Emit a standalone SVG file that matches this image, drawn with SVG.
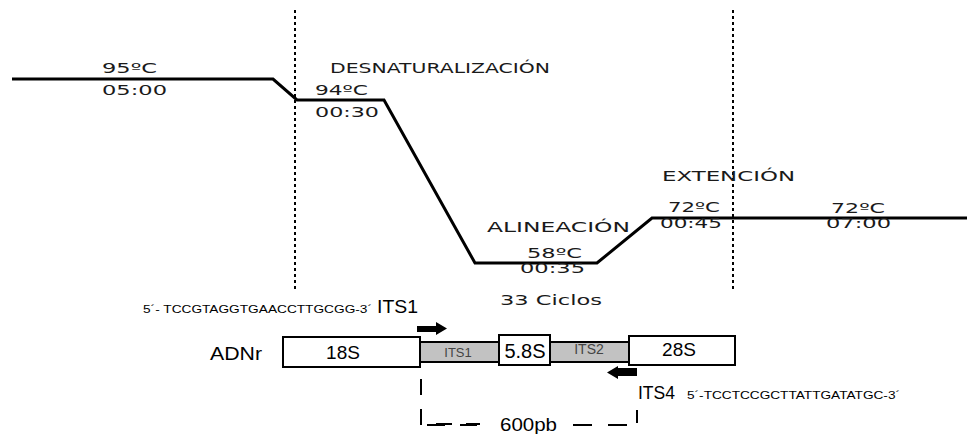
<svg xmlns="http://www.w3.org/2000/svg" width="967" height="434" viewBox="0 0 967 434">
<style>
.t{font-family:"DejaVu Sans","Open Sans",sans-serif;font-size:14.5px;fill:#1a1a1a}
.a{font-family:"Liberation Sans",Arial,sans-serif;fill:#000}
.prof{fill:none;stroke:#000;stroke-width:3;stroke-linejoin:miter}
.div{stroke:#000;stroke-width:2;stroke-dasharray:3,3}
.box{fill:#fff;stroke:#000;stroke-width:2}
.band{fill:#c2c2c2;stroke:#000;stroke-width:2}
.brk{fill:none;stroke:#000;stroke-width:2;stroke-dasharray:16,14}
</style>
<g id="dividers">
<line class="div" x1="295" y1="10" x2="295" y2="290"/>
<line class="div" x1="733" y1="10" x2="733" y2="290"/>
</g>
<g id="profile">
<polyline class="prof" points="12,79 273,79 297,100 384,100 475,263 597,263 652,218 967,218"/>
</g>
<g id="labels">
<text class="t" x="102" y="73" textLength="55" lengthAdjust="spacingAndGlyphs">95ºC</text>
<text class="t" x="102" y="95" textLength="65" lengthAdjust="spacingAndGlyphs">05:00</text>
<text class="t" x="330" y="73" textLength="220" lengthAdjust="spacingAndGlyphs">DESNATURALIZACIÓN</text>
<text class="t" x="315" y="95" textLength="53" lengthAdjust="spacingAndGlyphs">94ºC</text>
<text class="t" x="315" y="117" textLength="64" lengthAdjust="spacingAndGlyphs">00:30</text>
<text class="t" x="487" y="232" textLength="143" lengthAdjust="spacingAndGlyphs">ALINEACIÓN</text>
<text class="t" x="527" y="258" textLength="55" lengthAdjust="spacingAndGlyphs">58ºC</text>
<text class="t" x="520" y="273" textLength="65" lengthAdjust="spacingAndGlyphs">00:35</text>
<text class="t" x="662" y="181" textLength="133" lengthAdjust="spacingAndGlyphs">EXTENCIÓN</text>
<text class="t" x="668" y="212" textLength="52" lengthAdjust="spacingAndGlyphs">72ºC</text>
<text class="t" x="660" y="228" textLength="62" lengthAdjust="spacingAndGlyphs">00:45</text>
<text class="t" x="831" y="213" textLength="54" lengthAdjust="spacingAndGlyphs">72ºC</text>
<text class="t" x="826" y="228" textLength="65" lengthAdjust="spacingAndGlyphs">07:00</text>
<text class="t" x="500" y="305" textLength="102" lengthAdjust="spacingAndGlyphs">33 Ciclos</text>
</g>
<g id="primer-its1">
<text class="a" x="143" y="313" font-size="11.5" textLength="229" lengthAdjust="spacingAndGlyphs">5´- TCCGTAGGTGAACCTTGCGG-3´</text>
<text class="a" x="377" y="313" font-size="19" textLength="41" lengthAdjust="spacingAndGlyphs">ITS1</text>
<polygon points="417,326 436,326 436,322 447,328.5 436,335 436,332 417,332" fill="#000"/>
</g>
<g id="adnr-label">
<text class="a" x="210" y="360" font-size="19" textLength="52" lengthAdjust="spacingAndGlyphs">ADNr</text>
</g>
<g id="its1-band">
<rect class="band" x="420" y="342" width="80" height="20"/>
<text class="a" x="458" y="357" font-size="13" fill="#444" text-anchor="middle" style="fill:#444">ITS1</text>
</g>
<g id="its2-band">
<rect class="band" x="550" y="342" width="79" height="20"/>
<text class="a" x="589" y="354" font-size="14" text-anchor="middle" style="fill:#444">ITS2</text>
</g>
<g id="box-18s">
<rect class="box" x="283" y="337" width="137" height="30"/>
<text class="a" x="343" y="359" font-size="19" text-anchor="middle">18S</text>
</g>
<g id="box-58s">
<rect class="box" x="499" y="335" width="51" height="30"/>
<text class="a" x="525" y="358" font-size="20" text-anchor="middle">5.8S</text>
</g>
<g id="box-28s">
<rect class="box" x="629" y="336" width="106" height="29"/>
<text class="a" x="679" y="356" font-size="19" text-anchor="middle">28S</text>
</g>
<g id="primer-its4">
<polygon points="637,368 618,368 618,366 607,372.5 618,379 618,376 637,376" fill="#000"/>
<text class="a" x="638" y="399" font-size="19" textLength="37" lengthAdjust="spacingAndGlyphs">ITS4</text>
<text class="a" x="687" y="399" font-size="11.5" textLength="213" lengthAdjust="spacingAndGlyphs">5´-TCCTCCGCTTATTGATATGC-3´</text>
</g>
<g id="connectors">
<path class="brk" d="M421,379 L421,424 L480,424" stroke-dasharray="14,8,30,18"/>
<line x1="427" y1="425" x2="445" y2="425" stroke="#000" stroke-width="2"/>
<line x1="460" y1="425" x2="477" y2="425" stroke="#000" stroke-width="2"/>
<line x1="573" y1="425" x2="592" y2="425" stroke="#000" stroke-width="2"/>
<line x1="608" y1="425" x2="627" y2="425" stroke="#000" stroke-width="2"/>
<line x1="637" y1="410" x2="637" y2="423" stroke="#000" stroke-width="2"/>
<text class="a" x="500" y="431" font-size="19" textLength="57" lengthAdjust="spacingAndGlyphs">600pb</text>
</g>
</svg>
